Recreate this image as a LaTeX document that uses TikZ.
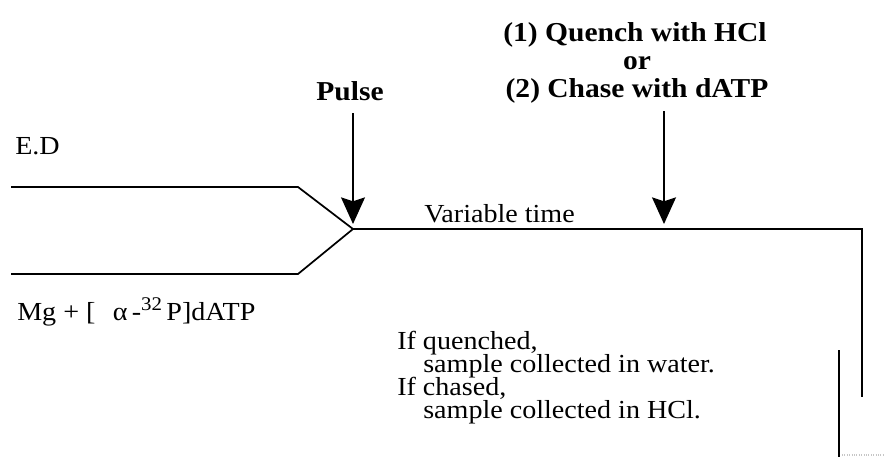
\documentclass[tikz,border=0pt]{standalone}
\usepackage{fontspec}
\setmainfont{Liberation Serif}[FakeStretch=1.08]
\usetikzlibrary{arrows.meta}
\begin{document}
\begin{tikzpicture}[x=0.75pt,y=-0.75pt,
  wire/.style={line width=1.3pt, line join=miter},
  pointer/.style={line width=1pt, -{Stealth[length=20pt,width=18pt,inset=3pt]}},
  lbl/.style={font=\fontsize{19.5pt}{22pt}\selectfont, inner sep=0pt, anchor=base west},
  head/.style={font=\bfseries\fontsize{20.5pt}{24pt}\selectfont, inner sep=0pt, anchor=base},
]
\useasboundingbox (0,0) rectangle (885,457);

% channel geometry: two inlets merging into one line
\coordinate (ta) at (11,187);
\coordinate (tb) at (298,187);
\coordinate (ba) at (11,274);
\coordinate (bb) at (298,274);
\coordinate (mix) at (353,229);
\coordinate (corner) at (862,229);
\coordinate (outlet) at (862,397);
\coordinate (tubetop) at (839,350);
\coordinate (tubebot) at (839,457);
\coordinate (edgea) at (842,455);
\coordinate (edgeb) at (885,455);

\draw[wire] (ta) -- (tb) -- (mix);
\draw[wire] (ba) -- (bb) -- (mix);
\draw[wire] (mix) -- (corner) -- (outlet);
\draw[wire] (tubetop) -- (tubebot);
\draw[gray!45, densely dotted, line width=0.8pt] (edgea) -- (edgeb);

% injection arrows
\coordinate (pulsefrom) at (353,113);
\coordinate (pulseto) at (353,224);
\coordinate (chasefrom) at (664,111);
\coordinate (chaseto) at (664,224);
\draw[pointer] (pulsefrom) -- (pulseto);
\draw[pointer] (chasefrom) -- (chaseto);

% labels
\node[lbl] (ed) at (15,154) {E.D};
\node[head] (pulse) at (350,100) {Pulse};
\node[head] (q1) at (635,41) {(1) Quench with HCl};
\node[head] (or) at (637,69) {or};
\node[head] (q2) at (637,97) {(2) Chase with dATP};
\node[lbl] (vt) at (424,222) {Variable time};
\node[lbl] (mg) at (17,320) {Mg + [\hspace{13pt}α\,-\raisebox{0.36em}{\fontsize{14.5pt}{15pt}\selectfont 32}\,P]dATP};
\node[lbl] (q) at (397,349) {If quenched,};
\node[lbl] (qw) at (423,372) {sample collected in water.};
\node[lbl] (c) at (397,395) {If chased,};
\node[lbl] (cw) at (423,418) {sample collected in HCl.};
\end{tikzpicture}
\end{document}
